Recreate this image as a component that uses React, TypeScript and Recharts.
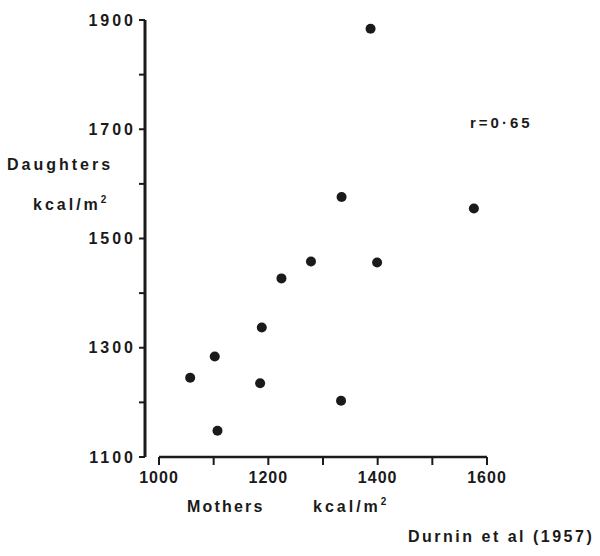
import React from 'react';
import {
  ScatterChart,
  Scatter,
  XAxis,
  YAxis,
  ReferenceLine,
} from 'recharts';

// mothers' and daughters' basal metabolism, kcal/m2
const mothers = [1278, 1399, 1224, 1188, 1102, 1057, 1185, 1333, 1107, 1387, 1334, 1576];
const daughters = [1458, 1456, 1427, 1337, 1284, 1245, 1235, 1203, 1148, 1884, 1576, 1555];

const xTicks = [1000, 1100, 1200, 1300, 1400, 1500, 1600];
const yTicks = [1100, 1200, 1300, 1400, 1500, 1600, 1700, 1800, 1900];

const data = mothers.map((m, i) => ({ mother: m, daughter: daughters[i] }));

const INK = '#1a1a1a';
const FONT = '"Liberation Sans", Arial, sans-serif';

const Dot = (props: any) => <circle cx={props.cx} cy={props.cy} r={5} fill={INK} />;

const textStyle = {
  fontFamily: FONT,
  fontWeight: 700,
  fontSize: 16,
  fill: INK,
};

const App = () => {
  return (
    <div style={{ position: 'absolute', left: 0, top: 0, width: 600, height: 556, background: '#fff' }}>
      <ScatterChart
        width={600}
        height={556}
        margin={{ top: 20, right: 113, bottom: 59, left: 0 }}
      >
        <XAxis
          type="number"
          dataKey="mother"
          domain={[1000, 1600]}
          ticks={xTicks}
          tickFormatter={(v: number) => ((v - 1000) % 200 === 0 ? String(v) : '')}
          padding={{ left: 14, right: 0 }}
          height={40}
          axisLine={false}
          tickSize={8}
          tickMargin={7}
          tickLine={{ stroke: INK, strokeWidth: 2 }}
          tick={{ ...textStyle, letterSpacing: 1 }}
          interval={0}
        />
        <YAxis
          type="number"
          dataKey="daughter"
          domain={[1100, 1900]}
          ticks={yTicks}
          tickFormatter={(v: number) => ((v - 1100) % 200 === 0 ? String(v) : '')}
          width={145}
          axisLine={{ stroke: INK, strokeWidth: 3 }}
          tickSize={6}
          tickMargin={3}
          tickLine={{ stroke: INK, strokeWidth: 2 }}
          tick={{ ...textStyle, letterSpacing: 3 }}
          interval={0}
        />
        <ReferenceLine
          segment={[
            { x: 1000, y: 1100 },
            { x: 1600, y: 1100 },
          ]}
          stroke={INK}
          strokeWidth={2.5}
        />
        <Scatter data={data} shape={Dot} isAnimationActive={false} />
        <g>
          <text x={7} y={170} style={{ ...textStyle, letterSpacing: 3 }}>Daughters</text>
          <text x={33} y={210} style={{ ...textStyle, letterSpacing: 3 }}>
            kcal/m<tspan fontSize={10} dy={-7}>2</tspan>
          </text>
          <text x={187} y={512} style={{ ...textStyle, letterSpacing: 2.2 }}>Mothers</text>
          <text x={313} y={512} style={{ ...textStyle, letterSpacing: 3 }}>
            kcal/m<tspan fontSize={10} dy={-7}>2</tspan>
          </text>
          <text x={408} y={542} style={{ ...textStyle, letterSpacing: 2.5 }}>Durnin et al (1957)</text>
          <text x={470} y={128} style={{ ...textStyle, fontSize: 15, letterSpacing: 3 }}>r=0·65</text>
        </g>
      </ScatterChart>
    </div>
  );
};

export default App;
